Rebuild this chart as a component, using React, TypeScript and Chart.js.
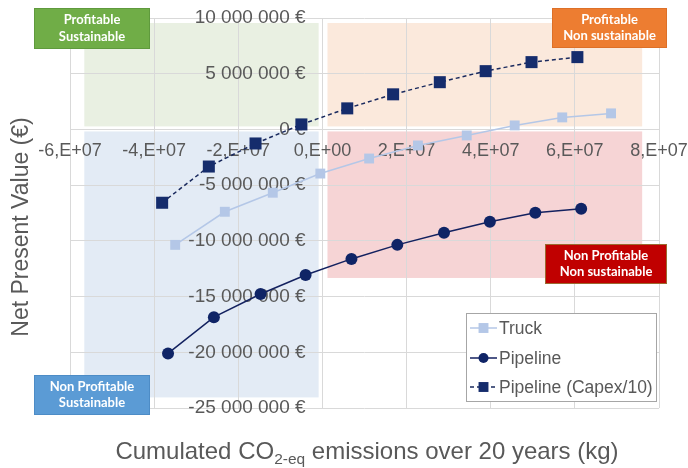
import { useEffect, useRef } from "react";
import { Chart, registerables } from "chart.js";

Chart.register(...registerables);

// ---------- data ----------
const seriesNames = ["Truck", "Pipeline", "Pipeline (Capex/10)"];

const truckX = [-3.5e7, -2.32e7, -1.18e7, -0.05e7, 1.11e7, 2.27e7, 3.43e7, 4.57e7, 5.7e7, 6.86e7];
const truckY = [-10.36e6, -7.39e6, -5.68e6, -3.96e6, -2.61e6, -1.44e6, -0.54e6, 0.36e6, 1.08e6, 1.44e6];

const pipelineX = [-3.67e7, -2.58e7, -1.47e7, -0.4e7, 0.69e7, 1.78e7, 2.89e7, 3.98e7, 5.06e7, 6.15e7];
const pipelineY = [-20.1e6, -16.85e6, -14.77e6, -13.06e6, -11.62e6, -10.36e6, -9.28e6, -8.29e6, -7.48e6, -7.12e6];

const capexX = [-3.81e7, -2.7e7, -1.59e7, -0.5e7, 0.59e7, 1.68e7, 2.79e7, 3.88e7, 4.97e7, 6.06e7];
const capexY = [-6.58e6, -3.33e6, -1.26e6, 0.45e6, 1.89e6, 3.15e6, 4.24e6, 5.23e6, 6.04e6, 6.49e6];

const xTickValues = [-6e7, -4e7, -2e7, 0, 2e7, 4e7, 6e7, 8e7];
const xTickLabels = ["-6,E+07", "-4,E+07", "-2,E+07", "0,E+00", "2,E+07", "4,E+07", "6,E+07", "8,E+07"];

const yTickValues = [10e6, 5e6, 0, -5e6, -10e6, -15e6, -20e6, -25e6];
const yTickLabels = [
  "10 000 000 €",
  "5 000 000 €",
  "0 €",
  "-5 000 000 €",
  "-10 000 000 €",
  "-15 000 000 €",
  "-20 000 000 €",
  "-25 000 000 €",
];

const quadrantTexts = [
  ["Profitable", "Sustainable"],
  ["Profitable", "Non sustainable"],
  ["Non Profitable", "Non sustainable"],
  ["Non Profitable", "Sustainable"],
];

const yTitle = "Net Present Value (€)";
const xTitleParts = ["Cumulated CO", "2-eq", " emissions over 20 years (kg)"];

// ---------- styles ----------
const TEXT_GRAY = "#595959";
const GRID = "#d9d9d9";
const FONT = "'Liberation Sans', Arial, sans-serif";

const QUAD_BG = [
  { x0: -5.66e7, x1: -0.09e7, y0: 0.27e6, y1: 9.55e6, color: "#e9f0e2" },
  { x0: 0.12e7, x1: 7.6e7, y0: 0.27e6, y1: 9.55e6, color: "#fbe9dc" },
  { x0: -5.66e7, x1: -0.09e7, y0: -24.05e6, y1: -0.18e6, color: "#e3ebf5" },
  { x0: 0.12e7, x1: 7.6e7, y0: -13.33e6, y1: -0.18e6, color: "#f6d4d5" },
];

const LABEL_BOXES = [
  { x: 34, y: 8, w: 116, h: 41, fill: "#70ad47", stroke: "#5f9a3d" },
  { x: 552, y: 8, w: 115, h: 40, fill: "#ed7d31", stroke: "#dd7028" },
  { x: 545, y: 244, w: 122, h: 40, fill: "#c00000", stroke: "#9a6a30" },
  { x: 34, y: 375, w: 116, h: 40, fill: "#5b9bd5", stroke: "#4d8cc6" },
];

function labelFor(values: number[], labels: string[], v: number) {
  const i = values.findIndex((t) => Math.abs(t - v) < 1);
  return i >= 0 ? labels[i] : "";
}

function drawMarker(ctx: CanvasRenderingContext2D, style: string, x: number, y: number, r: number, color: string) {
  ctx.fillStyle = color;
  if (style === "circle") {
    ctx.beginPath();
    ctx.arc(x, y, r, 0, Math.PI * 2);
    ctx.fill();
  } else {
    const s = r * Math.SQRT1_2;
    ctx.fillRect(x - s, y - s, 2 * s, 2 * s);
  }
}

const zeroPadding = (s: any) => {
  s.paddingLeft = 0;
  s.paddingRight = 0;
  s.paddingTop = 0;
  s.paddingBottom = 0;
};

const decorPlugin = {
  id: "decor",
  beforeDraw(chart: any) {
    const ctx = chart.ctx as CanvasRenderingContext2D;
    const xs = chart.scales.x;
    const ys = chart.scales.y;
    ctx.save();
    for (const q of QUAD_BG) {
      const x0 = xs.getPixelForValue(q.x0);
      const x1 = xs.getPixelForValue(q.x1);
      const y0 = ys.getPixelForValue(q.y1);
      const y1 = ys.getPixelForValue(q.y0);
      ctx.fillStyle = q.color;
      ctx.fillRect(x0, y0, x1 - x0, y1 - y0);
    }
    ctx.restore();
  },
  afterDraw(chart: any) {
    const ctx = chart.ctx as CanvasRenderingContext2D;
    ctx.save();

    // Y title
    ctx.fillStyle = TEXT_GRAY;
    ctx.font = `23px ${FONT}`;
    ctx.textAlign = "center";
    ctx.textBaseline = "middle";
    ctx.translate(22, 227);
    ctx.rotate(-Math.PI / 2);
    ctx.fillText(yTitle, 0, 0);
    ctx.setTransform(chart.currentDevicePixelRatio, 0, 0, chart.currentDevicePixelRatio, 0, 0);

    // X title with subscript
    const mainFont = `24px ${FONT}`;
    const subFont = `15.5px ${FONT}`;
    ctx.font = mainFont;
    const w0 = ctx.measureText(xTitleParts[0]).width;
    const w2 = ctx.measureText(xTitleParts[2]).width;
    ctx.font = subFont;
    const w1 = ctx.measureText(xTitleParts[1]).width;
    const total = w0 + w1 + w2;
    let tx = 367 - total / 2;
    const base = 459;
    ctx.textAlign = "left";
    ctx.textBaseline = "alphabetic";
    ctx.font = mainFont;
    ctx.fillText(xTitleParts[0], tx, base);
    tx += w0;
    ctx.font = subFont;
    ctx.fillText(xTitleParts[1], tx, base + 5);
    tx += w1;
    ctx.font = mainFont;
    ctx.fillText(xTitleParts[2], tx, base);

    // quadrant label boxes
    LABEL_BOXES.forEach((b, i) => {
      ctx.fillStyle = b.fill;
      ctx.fillRect(b.x, b.y, b.w, b.h);
      ctx.strokeStyle = b.stroke;
      ctx.lineWidth = 1;
      ctx.strokeRect(b.x + 0.5, b.y + 0.5, b.w - 1, b.h - 1);
      ctx.fillStyle = "#ffffff";
      ctx.font = `bold 13px Lato, 'Open Sans', sans-serif`;
      ctx.textAlign = "center";
      ctx.textBaseline = "middle";
      const cx = b.x + b.w / 2;
      const cy = b.y + b.h / 2;
      ctx.fillText(quadrantTexts[i][0], cx, cy - 8.5);
      ctx.fillText(quadrantTexts[i][1], cx, cy + 8);
    });

    // legend
    const lx = 466, ly = 313, lw = 191, lh = 89;
    ctx.fillStyle = "#ffffff";
    ctx.fillRect(lx, ly, lw, lh);
    ctx.strokeStyle = "#a6a6a6";
    ctx.lineWidth = 1;
    ctx.strokeRect(lx + 0.5, ly + 0.5, lw - 1, lh - 1);
    const rows = [328, 358, 387];
    chart.data.datasets.forEach((ds: any, i: number) => {
      const y = rows[i];
      ctx.strokeStyle = ds.borderColor;
      ctx.lineWidth = ds.borderWidth;
      ctx.setLineDash(ds.borderDash || []);
      ctx.beginPath();
      ctx.moveTo(470, y);
      ctx.lineTo(497, y);
      ctx.stroke();
      ctx.setLineDash([]);
      drawMarker(ctx, ds.pointStyle, 483.5, y, ds.pointStyle === "circle" ? 5 : 7, ds.backgroundColor);
      ctx.fillStyle = TEXT_GRAY;
      ctx.font = `17.5px ${FONT}`;
      ctx.textAlign = "left";
      ctx.textBaseline = "middle";
      ctx.fillText(ds.label, 499, y + 1);
    });

    ctx.restore();
  },
};

export default function App() {
  const ref = useRef<HTMLCanvasElement>(null);

  useEffect(() => {
    if (!ref.current) return;
    const chart = new Chart(ref.current, {
      type: "scatter",
      data: {
        datasets: [
          {
            label: seriesNames[0],
            data: truckX.map((x, i) => ({ x, y: truckY[i] })),
            showLine: true,
            borderColor: "#b4c7e7",
            backgroundColor: "#b4c7e7",
            borderWidth: 1.5,
            pointStyle: "rect",
            pointRadius: 7,
            pointBorderWidth: 0,
          },
          {
            label: seriesNames[1],
            data: pipelineX.map((x, i) => ({ x, y: pipelineY[i] })),
            showLine: true,
            borderColor: "#13215f",
            backgroundColor: "#0f2466",
            borderWidth: 1.5,
            pointStyle: "circle",
            pointRadius: 6,
            pointBorderWidth: 0,
          },
          {
            label: seriesNames[2],
            data: capexX.map((x, i) => ({ x, y: capexY[i] })),
            showLine: true,
            borderColor: "#1a2a5e",
            backgroundColor: "#152c6c",
            borderWidth: 1.5,
            borderDash: [4, 3],
            pointStyle: "rect",
            pointRadius: 8.5,
            pointBorderWidth: 0,
          },
        ],
      },
      options: {
        animation: false,
        responsive: true,
        maintainAspectRatio: false,
        layout: { padding: { left: 70, right: 29, top: 18, bottom: 60 } },
        plugins: { legend: { display: false }, tooltip: { enabled: false } },
        scales: {
          x: {
            type: "linear",
            position: { y: 0 } as any,
            min: -6e7,
            max: 8e7,
            afterBuildTicks: (s: any) => {
              s.ticks = xTickValues.map((v) => ({ value: v }));
            },
            afterFit: zeroPadding,
            grid: { color: GRID, lineWidth: 1, drawTicks: false },
            border: { display: false },
            ticks: {
              autoSkip: false,
              maxRotation: 0,
              padding: 11,
              color: TEXT_GRAY,
              font: { family: FONT, size: 18 },
              callback: (v: any) => labelFor(xTickValues, xTickLabels, Number(v)),
            },
          },
          y: {
            type: "linear",
            position: { x: -0.4e7 } as any,
            min: -25e6,
            max: 10e6,
            afterBuildTicks: (s: any) => {
              s.ticks = yTickValues.map((v) => ({ value: v }));
            },
            afterFit: zeroPadding,
            grid: { color: GRID, lineWidth: 1, drawTicks: false },
            border: { display: false },
            ticks: {
              autoSkip: false,
              color: TEXT_GRAY,
              font: { family: FONT, size: 19 },
              callback: (v: any) => labelFor(yTickValues, yTickLabels, Number(v)),
            },
          },
        },
      },
      plugins: [decorPlugin],
    });
    return () => chart.destroy();
  }, []);

  return (
    <div style={{ position: "absolute", left: 0, top: 0, width: 688, height: 468 }}>
      <canvas ref={ref} />
    </div>
  );
}
